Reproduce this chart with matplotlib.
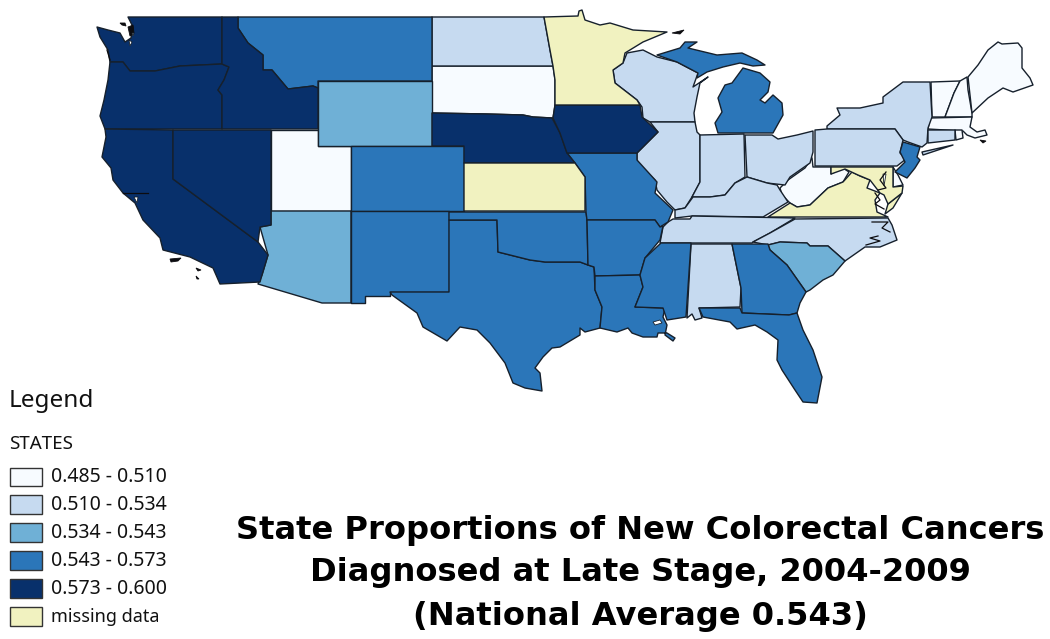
import matplotlib as mpl
mpl.use('Agg')
import matplotlib.pyplot as plt
from matplotlib.patches import Rectangle

# state outlines, in picture pixels
WA = [(128,17),(222,17),(222,64),(180,66),(155,71),(130,71),(123,62),(110,62),(108,50),(100,37),(97,27),(108,30),(120,33),(125,42),(131,38),(133,27)]
OR = [(110,62),(123,62),(130,71),(155,71),(180,66),(222,64),(229,67),(224,80),(218,90),(222,95),(222,129),(105,129),(100,116),(104,100),(108,80)]
ID = [(222,17),(238,17),(238,28),(248,43),(263,55),(263,70),(272,70),(288,89),(313,86),(318,88),(318,129),(222,129),(222,95),(218,90),(224,80),(229,67),(222,64)]
MT = [(238,17),(432,17),(432,81),(318,81),(318,88),(313,86),(288,89),(272,70),(263,70),(263,55),(248,43),(238,28)]
WY = [(318,81),(432,81),(432,146),(318,146)]
UT = [(271,130),(318,130),(318,146),(351,146),(351,211),(271,211)]
CO = [(351,146),(464,146),(464,211),(351,211)]
NV = [(173,130),(271,130),(271,225),(260,227),(258,242),(173,179)]
CA = [(105,129),(173,130),(173,179),(258,242),(268,255),(262,275),(260,282),(220,284),(213,268),(190,257),(163,250),(160,238),(143,220),(135,203),(123,193),(113,180),(111,168),(102,157),(106,137)]
AZ = [(271,211),(351,211),(351,303),(322,303),(258,284),(262,275),(268,255),(260,227),(271,225)]
NM = [(351,211),(449,211),(449,292),(390,292),(390,296),(365,296),(365,303),(351,303)]
OK = [(449,212),(586,212),(587,220),(588,265),(580,262),(560,262),(545,262),(530,260),(510,255),(498,252),(497,220),(449,220)]
TX = [(449,220),(497,220),(498,252),(510,255),(530,260),(545,262),(560,262),(580,262),(588,265),(594,267),(595,290),(602,307),(600,328),(585,332),(580,328),(580,335),(560,347),(552,348),(543,357),(535,368),(540,373),(542,391),(525,388),(513,383),(505,363),(490,343),(477,330),(460,327),(447,341),(423,327),(417,313),(392,295),(390,292),(449,292)]
KS = [(464,163),(575,163),(585,177),(585,211),(464,211)]
NE = [(432,113),(487,114),(523,115),(533,117),(552,118),(560,133),(567,153),(575,163),(464,163),(464,146),(432,146)]
SD = [(432,66),(553,66),(555,80),(555,105),(553,118),(533,117),(523,115),(487,114),(432,113)]
ND = [(432,17),(544,17),(550,50),(553,66),(432,66)]
MN = [(544,17),(578,16),(579,11),(582,10),(585,20),(600,25),(610,23),(633,30),(667,32),(643,42),(625,53),(623,63),(613,70),(615,83),(637,100),(640,105),(555,105),(555,80),(553,66),(550,50)]
IA = [(555,105),(640,105),(642,117),(658,132),(645,145),(637,153),(567,153),(560,133),(553,118)]
MO = [(567,153),(637,153),(637,160),(657,182),(655,193),(673,210),(668,222),(660,227),(655,220),(587,220),(586,212),(585,177),(575,163)]
AR = [(587,220),(655,220),(660,227),(663,226),(660,240),(645,258),(640,275),(595,276),(594,267),(588,265)]
LA = [(595,276),(640,275),(643,287),(635,307),(665,308),(663,317),(667,325),(665,335),(673,341),(675,338),(667,333),(658,333),(657,337),(643,337),(632,333),(628,328),(617,332),(600,328),(602,307),(595,290)]
MS = [(661,243),(691,243),(686,317),(667,320),(663,308),(635,307),(643,287),(640,275),(645,258)]
AL = [(691,244),(732,244),(741,288),(740,307),(699,308),(702,318),(695,320),(692,314),(687,318)]
GA = [(732,244),(768,244),(770,250),(787,265),(806,292),(800,303),(797,313),(789,315),(742,313),(741,288)]
SC = [(768,245),(780,242),(807,243),(810,246),(828,246),(845,261),(833,275),(823,280),(810,290),(806,292),(787,265),(770,250)]
NC = [(753,242),(770,233),(795,219),(888,218),(892,225),(897,240),(880,247),(865,247),(845,261),(828,246),(810,246),(807,243),(780,242),(768,245)]
TN = [(660,243),(663,227),(668,222),(673,219),(690,219),(692,216),(795,218),(770,233),(753,242),(752,243)]
KY = [(675,218),(692,216),(763,217),(788,202),(780,190),(777,185),(767,183),(747,177),(735,183),(725,195),(710,197),(693,197),(685,208),(675,210)]
IL = [(650,122),(695,122),(697,132),(700,135),(700,182),(692,197),(685,208),(675,210),(667,202),(657,190),(655,180),(637,163),(637,153),(645,145),(658,132)]
WI = [(623,63),(613,70),(615,83),(637,100),(642,107),(643,118),(650,122),(695,122),(694,113),(697,97),(700,83),(708,77),(693,87),(698,73),(677,62),(657,57),(643,50),(627,53)]
UP = [(657,55),(680,48),(685,42),(697,42),(688,48),(717,55),(742,53),(757,60),(765,65),(753,66),(740,63),(723,67),(707,72),(697,78),(698,73),(677,62)]
LP = [(718,133),(715,123),(722,112),(718,98),(725,85),(732,83),(743,68),(760,73),(770,82),(768,92),(760,100),(765,103),(773,95),(782,103),(783,115),(773,133)]
IN = [(700,135),(744,134),(745,177),(735,183),(725,195),(710,197),(692,197),(700,182)]
OH = [(745,135),(772,135),(778,139),(797,135),(813,131),(813,152),(810,163),(790,177),(785,185),(767,183),(747,177)]
PA = [(815,130),(827,129),(895,129),(903,140),(900,153),(906,159),(897,166),(815,166)]
NY = [(827,129),(827,126),(840,115),(837,108),(860,108),(883,103),(883,97),(903,82),(930,82),(932,117),(928,128),(927,143),(922,147),(908,142),(903,140),(895,129)]
LI = [(922,152),(953,145),(938,150),(923,155)]
NJ = [(903,142),(920,147),(917,157),(920,160),(915,168),(907,178),(895,172),(905,162),(900,152)]
DE = [(893,167),(893,187),(903,185),(898,175)]
MD = [(831,167),(893,167),(893,187),(903,186),(902,193),(888,204),(884,195),(880,193),(870,180),(858,175),(845,169),(831,174)]
VA = [(768,217),(790,203),(797,207),(810,205),(828,188),(843,182),(852,172),(860,176),(870,180),(867,188),(880,193),(875,200),(877,212),(888,217)]
VA_SHORE = [(888,204),(902,193),(893,208),(885,214)]
WV = [(780,188),(788,180),(805,168),(812,158),(813,167),(831,167),(831,174),(843,168),(849,172),(843,182),(828,188),(810,205),(797,207),(790,203),(782,195)]
VT = [(931,82),(960,81),(954,93),(945,117),(932,117)]
NH = [(960,81),(967,77),(968,90),(972,113),(972,117),(945,117),(954,93)]
ME = [(968,77),(978,65),(988,50),(998,42),(1002,44),(1018,43),(1022,48),(1022,68),(1030,78),(1033,85),(1013,92),(1003,88),(988,98),(972,113)]
MA = [(930,118),(972,117),(970,127),(977,132),(985,130),(987,135),(975,138),(967,135),(963,131),(928,129)]
CT = [(928,130),(955,130),(955,140),(928,143)]
RI = [(955,130),(962,130),(963,138),(956,140)]
FL = [(699,308),(740,308),(742,313),(789,315),(797,313),(803,330),(813,350),(822,377),(817,403),(803,402),(795,390),(782,370),(777,360),(778,340),(767,332),(755,325),(737,329),(730,322),(703,317)]

# small dark islands and white lake holes
islands = [[(120,23),(125,23),(126,26),(122,25)], [(170,259),(181,258),(178,261),(171,262)],
           [(196,268),(201,270),(198,271)], [(196,276),(199,279),(197,279)],
           [(672,33),(684,30),(680,34)], [(980,140),(986,141),(983,143)], [(128,27),(133,25),(134,33),(130,36)]]
holes = [[(653,322),(660,320),(662,323),(655,325)], [(134,197),(138,197),(137,203)], [(129,40),(132,42),(130,46)],
         [(132,33),(134,33),(133,36)], [(883,174),(886,174),(884,186)]]
sounds = [[(872,222),(888,222),(882,228),(890,232)], [(878,236),(870,238),(880,241),(866,245)],
          [(875,193),(880,200),(875,204),(884,209)], [(107,50),(110,60)], [(123,193),(148,193)],
          [(886,172),(880,180),(886,188),(878,190)]]

# groups as coloured in the picture
class_0485 = [UT, SD, WV, VT, NH, ME, MA, RI, DE]
class_0510 = [ND, WI, IL, IN, OH, KY, TN, NC, AL, NY, PA, CT, LI]
class_0534 = [WY, AZ, SC]
class_0543 = [MT, CO, NM, TX, OK, MO, AR, LA, MS, GA, FL, UP, LP, NJ]
class_0573 = [WA, OR, ID, CA, NV, NE, IA]
class_missing = [MN, KS, VA, VA_SHORE, MD]

legend_labels = ['0.485 - 0.510', '0.510 - 0.534', '0.534 - 0.543', '0.543 - 0.573', '0.573 - 0.600', 'missing data']
legend_colors = ['#f7fbff', '#c6daf0', '#6fb0d6', '#2b76b9', '#08306b', '#f1f2c0']
title_lines = ['State Proportions of New Colorectal Cancers', 'Diagnosed at Late Stage, 2004-2009', '(National Average 0.543)']

plt.rcParams['font.family'] = ['Noto Sans', 'DejaVu Sans']
edge = '#16202c'

fig = plt.figure(figsize=(10.5, 6.39), dpi=100)
ax = fig.add_axes([0, 0, 1, 1])
ax.set_xlim(0, 1050)
ax.set_ylim(639, 0)
ax.axis('off')

groups = [class_0485, class_0510, class_0534, class_0543, class_0573, class_missing]
for group, color in zip(groups, legend_colors):
    for outline in group:
        xs, ys = zip(*outline)
        ax.fill(xs, ys, facecolor=color, edgecolor=edge, linewidth=1.0, joinstyle='round')

for shape in islands:
    xs, ys = zip(*shape)
    ax.fill(xs, ys, facecolor='#0c0c10', edgecolor='#0c0c10', linewidth=0.6)
for shape in holes:
    xs, ys = zip(*shape)
    ax.fill(xs, ys, facecolor='white', edgecolor=edge, linewidth=0.6)
for line in sounds:
    xs, ys = zip(*line)
    ax.plot(xs, ys, color='#0c0c10', linewidth=0.9)

# legend block
ax.text(9, 401, 'Legend', fontsize=17.5, color='#111111', va='center', ha='left')
ax.text(9, 444, 'STATES', fontsize=13.5, color='#111111', va='center', ha='left')
for i, (label, color) in enumerate(zip(legend_labels, legend_colors)):
    top = 467.5 + i*27.9
    ax.add_patch(Rectangle((9.5, top), 32, 18.5, facecolor=color, edgecolor='#333333', linewidth=1.0))
    size = 13 if label == 'missing data' else 14
    ax.text(51, top + 10, label, fontsize=size, color='#111111', va='center', ha='left')

for y, line in zip([530, 572, 617], title_lines):
    ax.text(640, y, line, fontsize=23.1, fontweight='bold', family='DejaVu Sans', color='black', va='center', ha='center')

plt.savefig('out.png', dpi=100)
